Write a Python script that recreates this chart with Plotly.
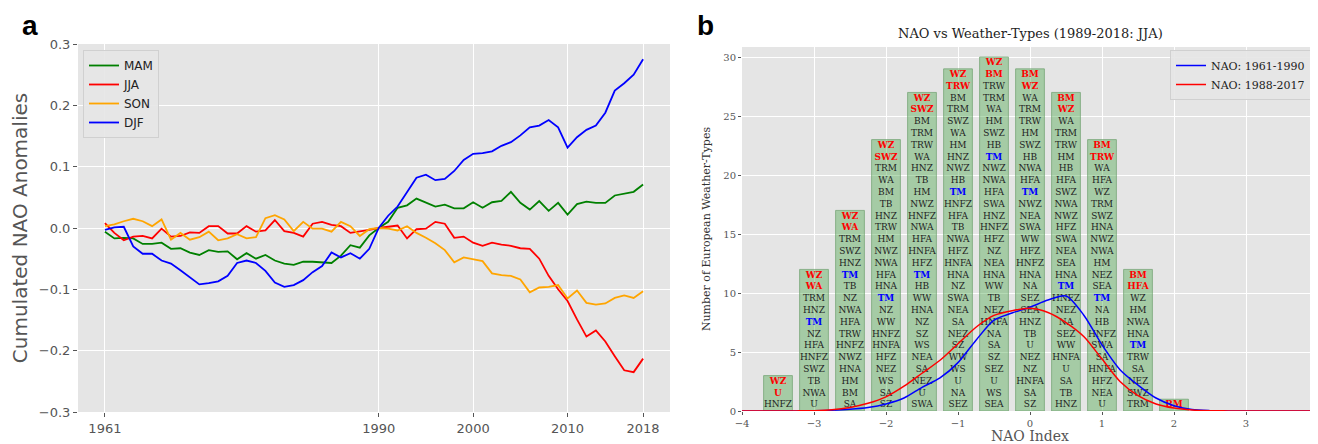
import plotly.graph_objects as go

# ---------------- Panel a data ----------------
years = list(range(1961, 2019))
mam = [-0.006, -0.017, -0.016, -0.017, -0.026, -0.026, -0.024, -0.034, -0.033, -0.040,
       -0.044, -0.036, -0.039, -0.038, -0.051, -0.041, -0.050, -0.044, -0.053, -0.058,
       -0.060, -0.055, -0.055, -0.056, -0.057, -0.045, -0.028, -0.032, -0.012, 0.000,
       0.010, 0.033, 0.037, 0.048, 0.042, 0.035, 0.038, 0.032, 0.032, 0.042,
       0.033, 0.042, 0.044, 0.059, 0.041, 0.030, 0.044, 0.028, 0.041, 0.022,
       0.039, 0.043, 0.041, 0.041, 0.053, 0.056, 0.059, 0.071]
jja = [0.008, -0.008, -0.020, -0.014, -0.013, -0.017, -0.001, -0.014, -0.013, -0.007,
       -0.008, 0.003, 0.003, -0.009, -0.009, 0.003, -0.006, -0.004, 0.013, -0.005,
       -0.008, -0.014, 0.007, 0.010, 0.005, 0.003, -0.008, -0.006, -0.003, 0.000,
       0.002, 0.004, -0.017, -0.002, -0.001, 0.010, 0.007, -0.016, -0.014, -0.024,
       -0.029, -0.024, -0.027, -0.029, -0.033, -0.034, -0.050, -0.078, -0.100, -0.119,
       -0.149, -0.177, -0.167, -0.185, -0.209, -0.232, -0.235, -0.213]
son = [0.003, 0.006, 0.011, 0.015, 0.011, 0.003, 0.014, -0.019, -0.008, -0.019,
       -0.015, -0.006, -0.020, -0.017, -0.010, -0.017, -0.015, 0.016, 0.021, 0.014,
       -0.005, 0.010, -0.001, -0.001, -0.006, 0.010, 0.003, -0.013, -0.002, 0.000,
       -0.001, -0.004, 0.003, -0.008, -0.016, -0.025, -0.036, -0.056, -0.048, -0.051,
       -0.054, -0.074, -0.077, -0.078, -0.084, -0.105, -0.097, -0.096, -0.093, -0.115,
       -0.102, -0.122, -0.125, -0.123, -0.114, -0.110, -0.114, -0.103]
djf = [-0.003, 0.001, 0.002, -0.030, -0.042, -0.042, -0.053, -0.058, -0.069, -0.081,
       -0.092, -0.090, -0.087, -0.078, -0.057, -0.053, -0.057, -0.070, -0.089, -0.096,
       -0.093, -0.085, -0.072, -0.062, -0.040, -0.048, -0.041, -0.050, -0.034, 0.000,
       0.020, 0.035, 0.058, 0.082, 0.087, 0.078, 0.080, 0.093, 0.111, 0.121,
       0.122, 0.125, 0.134, 0.140, 0.151, 0.164, 0.167, 0.176, 0.164, 0.131,
       0.148, 0.160, 0.167, 0.188, 0.224, 0.236, 0.250, 0.275]
season_names = ["MAM", "JJA", "SON", "DJF"]
season_colors = ["green", "red", "orange", "blue"]
a_xticks = [1961, 1990, 2000, 2010, 2018]
a_yticks = [-0.3, -0.2, -0.1, 0.0, 0.1, 0.2, 0.3]

# ---------------- Panel b data ----------------
nao_bins = [-3.5, -3.0, -2.5, -2.0, -1.5, -1.0, -0.5, 0.0, 0.5, 1.0, 1.5, 2.0]
wt_lists = [
    ["WZ", "U", "HNFZ"],
    ["WZ", "WA", "TRM", "HNZ", "TM", "NZ", "HFA", "HNFZ", "SWZ", "TB", "NWA", "U"],
    ["WZ", "WA", "TRM", "SWZ", "HNZ", "TM", "TB", "NZ", "NWA", "HFA", "TRW", "HNFZ",
     "NWZ", "HNA", "HM", "BM", "SA"],
    ["WZ", "SWZ", "TRM", "WA", "BM", "TB", "HNZ", "TRW", "HM", "NWZ", "NWA", "HFA",
     "HNA", "TM", "NZ", "WW", "HNFZ", "HNFA", "HFZ", "NEZ", "WS", "SA", "SZ"],
    ["WZ", "SWZ", "BM", "TRM", "TRW", "WA", "HNZ", "TB", "HM", "NWZ", "HNFZ", "NWA",
     "HFA", "HNFA", "HFZ", "TM", "HB", "WW", "HNA", "NZ", "SZ", "WS", "NEA", "SA",
     "NEZ", "U", "SWA"],
    ["WZ", "TRW", "BM", "TRM", "SWZ", "WA", "HM", "HNZ", "NWZ", "HB", "TM", "HNFZ",
     "HFA", "TB", "NWA", "HFZ", "HNFA", "HNA", "NZ", "SWA", "NEA", "SA", "NEZ", "SZ",
     "WW", "WS", "U", "NA", "SEZ"],
    ["WZ", "BM", "TRW", "TRM", "WA", "HM", "SWZ", "HB", "TM", "NWZ", "NWA", "HFA",
     "SWA", "HNZ", "HNFZ", "HFZ", "NZ", "NEA", "HNA", "WW", "TB", "NEZ", "HNFA", "NA",
     "SA", "SZ", "SEZ", "U", "WS", "SEA"],
    ["BM", "WZ", "WA", "TRM", "TRW", "HM", "SWZ", "HB", "NWA", "HFA", "TM", "NWZ",
     "NEA", "SWA", "WW", "HFZ", "HNFZ", "HNA", "NA", "SEZ", "SEA", "HNZ", "TB", "U",
     "NEZ", "NZ", "HNFA", "SA", "SZ"],
    ["BM", "WZ", "WA", "TRM", "TRW", "HM", "HB", "HFA", "SWZ", "NWA", "NWZ", "HFZ",
     "SWA", "NEA", "SEA", "HNA", "TM", "HNFZ", "NEZ", "NA", "SEZ", "WW", "HNFA", "U",
     "SA", "TB", "HNZ"],
    ["BM", "TRW", "WA", "HFA", "WZ", "TRM", "SWZ", "HNA", "NWZ", "NWA", "HM", "NEZ",
     "SEA", "TM", "NA", "HB", "HNFZ", "SWA", "SA", "HNFA", "HFZ", "NEA", "U"],
    ["BM", "HFA", "WZ", "HM", "NWA", "HNA", "TM", "TRW", "SA", "NEZ", "SWZ", "TRM"],
    ["BM"],
]
n_red_top = [2, 2, 2, 2, 2, 2, 2, 2, 2, 2, 2, 1]
kde_x = [-4.0, -3.5, -3.25, -3.0, -2.75, -2.5, -2.25, -2.0, -1.75, -1.5, -1.25, -1.0,
         -0.75, -0.5, -0.25, 0.0, 0.25, 0.5, 0.75, 1.0, 1.25, 1.5, 1.75, 2.0, 2.25,
         2.5, 2.75, 3.0, 4.0]
kde_6190 = [0.0, 0.0, 0.01, 0.03, 0.07, 0.15, 0.3, 0.6, 1.1, 2.0, 2.8, 4.1,
            6.0, 7.7, 8.3, 8.8, 9.4, 9.75, 8.1, 5.6, 3.5, 2.2, 1.1, 0.45, 0.12,
            0.03, 0.01, 0.0, 0.0]
kde_8817 = [0.0, 0.0, 0.01, 0.03, 0.1, 0.3, 0.65, 1.2, 2.1, 3.2, 4.3, 5.7,
            7.1, 8.1, 8.5, 8.7, 8.35, 7.5, 6.3, 4.4, 2.5, 1.3, 0.6, 0.25, 0.08,
            0.02, 0.01, 0.0, 0.0]
b_xticks = [-4, -3, -2, -1, 0, 1, 2, 3]
b_yticks = [0, 5, 10, 15, 20, 25, 30]

SANS = "DejaVu Sans"
SERIF = "DejaVu Serif"
GRAY = "#555555"
BG = "#E5E5E5"

# page has an 8px body margin: the figure occupies page pixels 8..1318 x 8..444
OFF = 8
W, H = 1318 - OFF, 444 - OFF


def fx(px):
    return (px - OFF) / W


def fy(py):
    return (444 - py) / H


fig = go.Figure()

# Panel a lines
for name, col, vals in zip(season_names, season_colors, [mam, jja, son, djf]):
    fig.add_trace(go.Scatter(x=years, y=vals, mode="lines", name=name,
                             line=dict(color=col, width=1.8),
                             xaxis="x", yaxis="y", legend="legend",
                             hoverinfo="skip"))

# Panel b bars
counts = [len(l) for l in wt_lists]
fig.add_trace(go.Bar(x=nao_bins, y=counts, width=0.4, showlegend=False,
                     marker=dict(color="rgba(70,165,70,0.40)",
                                 line=dict(color="rgba(110,160,110,0.7)", width=1)),
                     xaxis="x2", yaxis="y2", hoverinfo="skip"))

# Panel b text in bars
tx, ty, tt, tc = [], [], [], []
for xb, lst, nr in zip(nao_bins, wt_lists, n_red_top):
    n = len(lst)
    for j, w in enumerate(lst):
        tx.append(xb)
        ty.append(n - j - 0.5)
        if j < nr:
            tt.append("<b>" + w + "</b>")
            tc.append("red")
        elif w == "TM":
            tt.append("<b>" + w + "</b>")
            tc.append("blue")
        else:
            tt.append(w)
            tc.append("#222222")
fig.add_trace(go.Scatter(x=tx, y=ty, text=tt, mode="text", showlegend=False,
                         textfont=dict(family=SERIF, size=9, color=tc),
                         xaxis="x2", yaxis="y2", hoverinfo="skip"))

# Panel b curves
fig.add_trace(go.Scatter(x=kde_x, y=kde_6190, mode="lines", name="NAO: 1961-1990",
                         line=dict(color="blue", width=1.5, shape="spline", smoothing=0.8),
                         xaxis="x2", yaxis="y2", legend="legend2", hoverinfo="skip"))
fig.add_trace(go.Scatter(x=kde_x, y=kde_8817, mode="lines", name="NAO: 1988-2017",
                         line=dict(color="red", width=1.5, shape="spline", smoothing=0.8),
                         xaxis="x2", yaxis="y2", legend="legend2", hoverinfo="skip"))

fig.update_layout(
    width=W, height=H,
    margin=dict(l=0, r=0, t=0, b=0, autoexpand=False),
    paper_bgcolor="white",
    plot_bgcolor=BG,
    showlegend=True,
    xaxis=dict(domain=[fx(78), fx(670)], range=[1958.15, 2020.85], automargin=False,
               tickvals=a_xticks, ticks="outside", ticklen=4, tickcolor=GRAY,
               tickfont=dict(family=SANS, size=13, color=GRAY),
               showgrid=True, gridcolor="white", gridwidth=1.2, zeroline=False,
               showline=False, anchor="y"),
    yaxis=dict(domain=[fy(412), fy(44)], range=[-0.3, 0.3], automargin=False,
               tickvals=a_yticks, tickformat=".1f", ticks="outside", ticklen=4,
               tickcolor=GRAY, tickfont=dict(family=SANS, size=13, color=GRAY),
               showgrid=True, gridcolor="white", gridwidth=1.2, zeroline=False,
               showline=False, anchor="x",
               title=dict(text="Cumulated NAO Anomalies", standoff=8,
                          font=dict(family=SANS, size=20, color=GRAY))),
    xaxis2=dict(domain=[fx(742), 1.0], range=[-4, 4], automargin=False,
                tickvals=b_xticks, ticks="outside", ticklen=3, tickcolor=GRAY,
                tickfont=dict(family=SERIF, size=10, color=GRAY),
                showgrid=True, gridcolor="white", gridwidth=1.2, zeroline=False,
                showline=False, anchor="y2",
                title=dict(text="NAO Index", standoff=2,
                           font=dict(family=SERIF, size=14, color=GRAY))),
    yaxis2=dict(domain=[fy(411), fy(47)], range=[0, 30.85], automargin=False,
                tickvals=b_yticks, ticks="outside", ticklen=3, tickcolor=GRAY,
                tickfont=dict(family=SERIF, size=10, color=GRAY),
                showgrid=True, gridcolor="white", gridwidth=1.2, zeroline=False,
                showline=False, anchor="x2",
                title=dict(text="Number of European Weather-Types", standoff=10,
                           font=dict(family=SERIF, size=11, color="#333333"))),
    legend=dict(x=fx(83), y=fy(50), xanchor="left", yanchor="top",
                bgcolor="rgba(229,229,229,0.9)", bordercolor="#D0D0D0", borderwidth=1,
                font=dict(family=SANS, size=12, color="#222222"),
                itemwidth=30, tracegroupgap=2),
    legend2=dict(x=fx(1311), y=fy(50), xanchor="right", yanchor="top",
                 bgcolor="rgba(229,229,229,0.9)", bordercolor="#D0D0D0", borderwidth=1,
                 font=dict(family=SERIF, size=11, color="#222222"), itemwidth=30),
    annotations=[
        dict(text="<b>a</b>", x=fx(20), y=fy(8.5), xref="paper", yref="paper",
             xanchor="left", yanchor="top", showarrow=False,
             font=dict(family="Liberation Sans", size=28, color="black")),
        dict(text="<b>b</b>", x=fx(695), y=fy(8.5), xref="paper", yref="paper",
             xanchor="left", yanchor="top", showarrow=False,
             font=dict(family="Liberation Sans", size=28, color="black")),
        dict(text="NAO vs Weather-Types (1989-2018: JJA)", x=fx(1030), y=fy(33),
             xref="paper", yref="paper", xanchor="center", yanchor="middle",
             showarrow=False, font=dict(family=SERIF, size=13, color="#222222")),
    ],
)

fig.write_html("out.html")
